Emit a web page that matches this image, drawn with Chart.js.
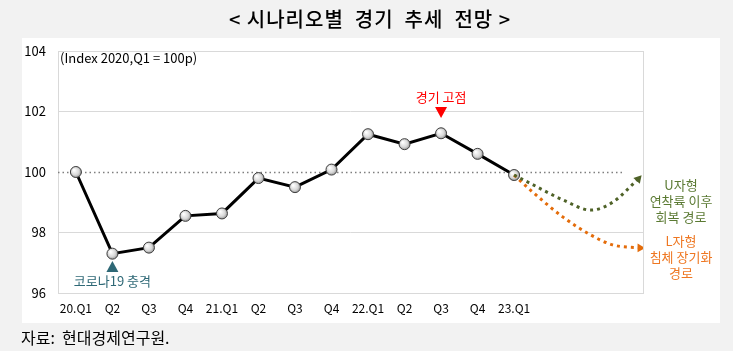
<!DOCTYPE html>
<html>
<head>
<meta charset="utf-8">
<script src="https://cdn.jsdelivr.net/npm/chart.js@4/dist/chart.umd.min.js"></script>
<style>
  html, body { margin: 0; padding: 0; background: #f2f2f2; overflow: hidden; }
  #wrap { width: 733px; height: 351px; position: relative; }
</style>
</head>
<body>
<div id="wrap"><canvas id="trend" width="733" height="351"></canvas></div>
<script>
// 분기 라벨, 지수 값 (2020.Q1 = 100)
const xLabels = ['20.Q1', 'Q2', 'Q3', 'Q4', '21.Q1', 'Q2', 'Q3', 'Q4', '22.Q1', 'Q2', 'Q3', 'Q4', '23.Q1'];
const indexValues = [100.0, 97.3, 97.5, 98.55, 98.63, 99.8, 99.5, 100.08, 101.25, 100.92, 101.28, 100.6, 99.9];

// 시나리오 경로 (U자형 / L자형)
const uPathX = [12, 12.45, 13.35, 14.1, 14.7, 15.4];
const uPathY = [99.9, 99.62, 99.07, 98.74, 99.0, 99.77];
const lPathX = [12, 12.45, 13.35, 14.1, 14.7, 15.45];
const lPathY = [99.9, 99.4, 98.5, 97.92, 97.59, 97.49];

const yTicks = [96, 98, 100, 102, 104];

const FONT = '"Noto Sans CJK KR", "Noto Sans", sans-serif';

function pts(xs, ys) {
    return xs.map((x, i) => ({x: x, y: ys[i]}));
}

function ballFill(ctx) {
    const el = ctx.element;
    const c = ctx.chart.ctx;
    if (!el || el.x === undefined || isNaN(el.x)) return '#d0d0d0';
    const g = c.createRadialGradient(el.x - 2, el.y - 2, 0.5, el.x, el.y, 6);
    g.addColorStop(0, '#ffffff');
    g.addColorStop(0.6, '#d8d8d8');
    g.addColorStop(1, '#8a8a8a');
    return g;
}

const extras = {
    id: 'extras',
    beforeDraw(chart) {
        const c = chart.ctx;
        c.save();
        c.fillStyle = '#f2f2f2';
        c.fillRect(0, 0, chart.width, chart.height);
        c.fillStyle = '#ffffff';
        c.fillRect(22, 38, 698, 285);
        c.restore();
    },
    beforeDatasetsDraw(chart) {
        const c = chart.ctx;
        const a = chart.chartArea;
        const xs = chart.scales.x, ys = chart.scales.y;
        c.save();
        // plot frame
        c.strokeStyle = '#d9d9d9';
        c.lineWidth = 1;
        c.strokeRect(a.left + 0.5, a.top + 0.5, a.right - a.left, a.bottom - a.top);
        // 100 기준선
        const y100 = Math.round(ys.getPixelForValue(100)) + 0.5;
        c.strokeStyle = '#7f7f7f';
        c.lineWidth = 1.5;
        c.setLineDash([1.5, 3]);
        c.beginPath();
        c.moveTo(a.left, y100);
        c.lineTo(xs.getPixelForValue(15), y100);
        c.stroke();
        c.restore();
    },
    afterDraw(chart) {
        const c = chart.ctx;
        const xs = chart.scales.x;
        c.save();
        c.textBaseline = 'middle';
        c.textAlign = 'center';
        // 제목
        c.fillStyle = '#000';
        c.font = '500 20px ' + FONT;
        c.letterSpacing = '1px';
        c.fillText('< 시나리오별  경기  추세  전망 >', 370, 19);
        c.letterSpacing = '0px';
        // 자료
        c.textAlign = 'left';
        c.font = '16px ' + FONT;
        c.fillText('자료:  현대경제연구원.', 21, 338);
        // 단위
        c.font = '13px ' + FONT;
        c.fillText('(Index 2020,Q1 = 100p)', 60, 58);

        // 경기 고점
        const px = xs.getPixelForValue(10);
        c.textAlign = 'center';
        c.fillStyle = '#ff0000';
        c.font = '13px ' + FONT;
        c.fillText('경기 고점', px, 97);
        c.beginPath();
        c.moveTo(px - 6, 107); c.lineTo(px + 6, 107); c.lineTo(px, 118); c.closePath();
        c.fill();

        // 코로나19 충격
        const cx = xs.getPixelForValue(1);
        c.fillStyle = '#2e6876';
        c.beginPath();
        c.moveTo(cx - 6, 272); c.lineTo(cx + 6, 272); c.lineTo(cx, 261); c.closePath();
        c.fill();
        c.fillText('코로나19 충격', cx, 281);

        // 시나리오 라벨
        c.font = '13px ' + FONT;
        c.fillStyle = '#5b7a33';
        ['U자형', '연착륙 이후', '회복 경로'].forEach((t, i) => c.fillText(t, 681, 185 + i * 16));
        c.fillStyle = '#ee7722';
        ['L자형', '침체 장기화', '경로'].forEach((t, i) => c.fillText(t, 681, 241 + i * 16));
        c.restore();
    }
};

new Chart(document.getElementById('trend'), {
    type: 'line',
    data: {
        datasets: [
            {
                label: 'U',
                data: pts(uPathX, uPathY),
                borderColor: '#4f6228',
                borderWidth: 3,
                borderDash: [3, 4],
                cubicInterpolationMode: 'monotone',
                pointRadius: (ctx) => ctx.dataIndex === uPathX.length - 1 ? 5 : 0,
                pointStyle: 'triangle',
                pointRotation: 42,
                pointBackgroundColor: '#4f6228',
                pointBorderWidth: 0
            },
            {
                label: 'L',
                data: pts(lPathX, lPathY),
                borderColor: '#e46c0a',
                borderWidth: 3,
                borderDash: [3, 4],
                cubicInterpolationMode: 'monotone',
                pointRadius: (ctx) => ctx.dataIndex === lPathX.length - 1 ? 5 : 0,
                pointStyle: 'triangle',
                pointRotation: 90,
                pointBackgroundColor: '#e46c0a',
                pointBorderWidth: 0
            },
            {
                label: 'Index',
                data: indexValues.map((v, i) => ({x: i, y: v})),
                borderColor: '#000000',
                borderWidth: 3,
                tension: 0,
                pointRadius: 5.5,
                pointBorderColor: '#404040',
                pointBorderWidth: 1,
                pointBackgroundColor: ballFill
            }
        ]
    },
    options: {
        responsive: false,
        animation: false,
        layout: {padding: {left: 0, top: 51, right: 90, bottom: 28}},
        plugins: {legend: {display: false}, tooltip: {enabled: false}},
        scales: {
            x: {
                type: 'linear',
                min: -0.49,
                max: 15.53,
                afterBuildTicks: (s) => { s.ticks = xLabels.map((l, i) => ({value: i})); },
                afterFit: (s) => { s.height = 30; },
                grid: {display: false, drawTicks: false},
                border: {display: false},
                ticks: {
                    autoSkip: false,
                    maxRotation: 0,
                    padding: 8,
                    color: '#000',
                    font: {family: FONT, size: 12},
                    callback: (v) => xLabels[v] || ''
                }
            },
            y: {
                min: 96,
                max: 104,
                afterBuildTicks: (s) => { s.ticks = yTicks.map((v) => ({value: v})); },
                afterFit: (s) => { s.width = 58; },
                grid: {
                    drawTicks: false,
                    color: (ctx) => ctx.tick && ctx.tick.value === 100 ? 'rgba(0,0,0,0)' : '#d9d9d9'
                },
                border: {display: false},
                ticks: {
                    padding: 12,
                    color: '#000',
                    font: {family: FONT, size: 13}
                }
            }
        }
    },
    plugins: [extras]
});
</script>
</body>
</html>
